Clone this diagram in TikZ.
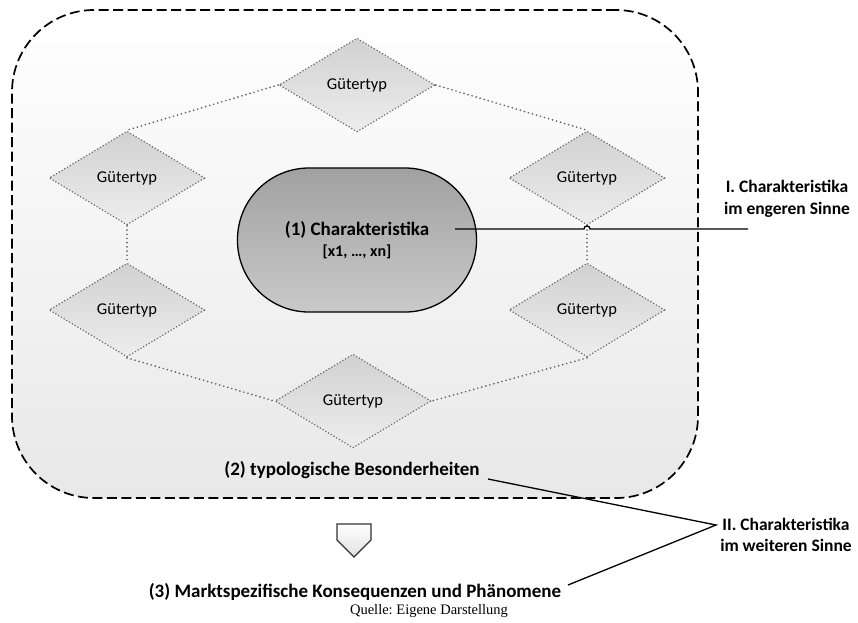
\documentclass[tikz,border=0pt]{standalone}
\usepackage{fontspec}
\setmainfont{Carlito}
\newfontfamily\quellefont{Liberation Serif}
\usetikzlibrary{shapes.geometric}
\frenchspacing
\begin{document}
\begin{tikzpicture}[x=1pt,y=-1pt,
  frame/.style={draw=black, line width=1.7pt, dash pattern=on 10pt off 4.5pt,
    rounded corners=82pt, top color=white, bottom color=black!9,
    minimum width=686pt, minimum height=488pt, inner sep=0pt},
  gt/.style={shape=diamond, draw=black!58, line width=1.7pt, line cap=round,
    dash pattern=on 0pt off 3.2pt, top color=black!18, bottom color=black!7,
    minimum width=156pt, minimum height=94pt, inner sep=0pt,
    font=\fontsize{16.5}{18}\selectfont, text=black},
  core/.style={draw=black, line width=1.3pt, rounded corners=71.5pt,
    top color=black!37, bottom color=black!21,
    minimum width=239pt, minimum height=144pt, inner sep=0pt, align=center},
  link/.style={draw=black!60, line width=1.9pt, line cap=round,
    dash pattern=on 0pt off 4.2pt},
  conn/.style={draw=black, line width=1.3pt},
  lbl/.style={font=\bfseries\fontsize{19}{22}\selectfont, inner sep=0pt},
  side/.style={font=\bfseries\fontsize{17.5}{21.5}\selectfont, align=center, inner sep=0pt},
]
\useasboundingbox (0,0) rectangle (858,622);
\fill[white] (0,0) rectangle (858,622);

% frame
\node[frame] (box) at (355,254) {};

% diamonds
\node[gt] (t)  at (357,85)  {Gütertyp};
\node[gt] (ul) at (127,178) {Gütertyp};
\node[gt] (ur) at (587,178) {Gütertyp};
\node[gt] (ll) at (127,310) {Gütertyp};
\node[gt] (lr) at (587,310) {Gütertyp};
\node[gt] (b)  at (353,401) {Gütertyp};

\draw[link] (t.west) -- (ul.north);
\draw[link] (t.east) -- (ur.north);
\draw[link] (ul.south) -- (ll.north);
\draw[link] (ur.south) -- (lr.north);
\draw[link] (ll.south) -- (b.west);
\draw[link] (lr.south) -- (b.east);

% core
\node[core] (core) at (357,240)
  {{\bfseries\fontsize{19}{22}\selectfont (1) Charakteristika}\\[5pt]
   {\bfseries\fontsize{16}{19}\selectfont [x1, …, xn]}};

% labels
\node[lbl] (typ) at (352,470) {(2) typologische Besonderheiten};
\node[lbl] (mkt) at (355,592) {(3) Marktspezifische Konsequenzen und Phänomene};
\node[inner sep=0pt, font=\quellefont\fontsize{14.5}{17}\selectfont] (src) at (429,611) {Quelle: Eigene Darstellung};

\node[side] (c1t) at (787,199) {I. Charakteristika\\im engeren Sinne};
\node[side] (c2t) at (786,535) {II. Charakteristika\\im weiteren Sinne};

% pentagon arrow
\path[draw=black!80, line width=1.3pt, top color=white, bottom color=black!12]
  (337,524) -- (371,524) -- (371,540) -- (354,557) -- (337,540) -- cycle;

% connectors
\coordinate (a1) at (455,229);
\coordinate (a2) at (748,229);
\draw[conn] (a1) -- (584,229) .. controls (584,225) and (590,225) .. (590,229) -- (a2);

\coordinate (m) at (716,525);
\coordinate (b1) at (488,479);
\coordinate (b2) at (568,585);
\draw[conn] (b1) -- (m) -- (b2);
\end{tikzpicture}
\end{document}
